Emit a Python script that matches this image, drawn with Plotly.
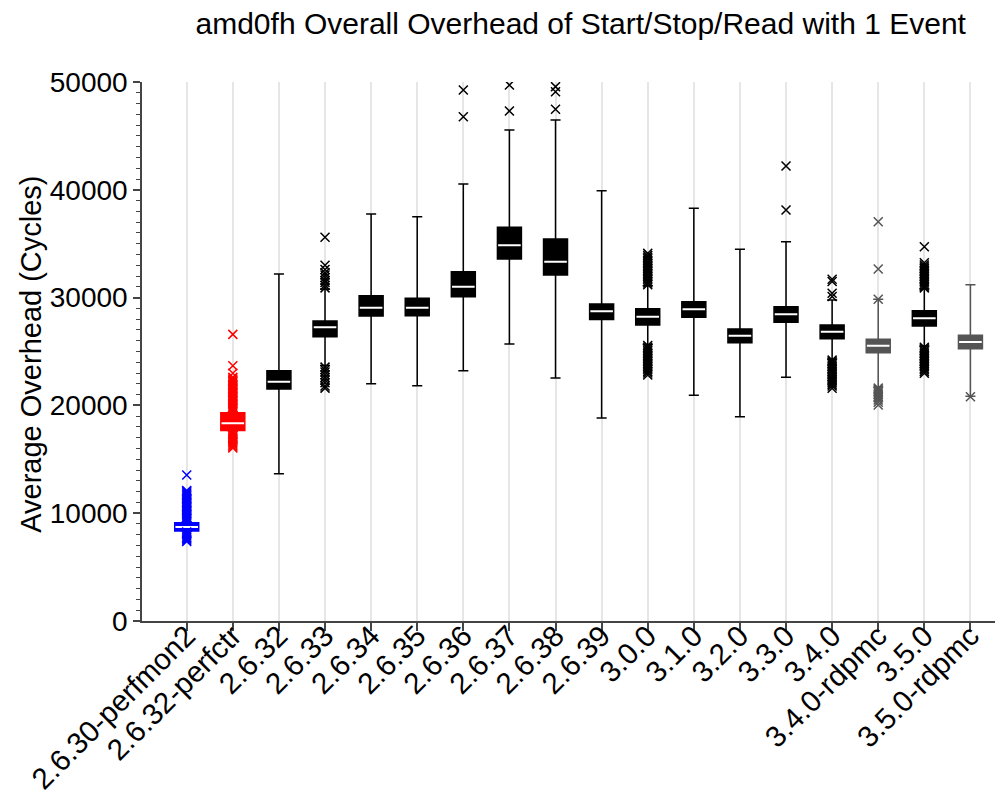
import plotly.graph_objects as go

categories = ["2.6.30-perfmon2", "2.6.32-perfctr", "2.6.32", "2.6.33", "2.6.34", "2.6.35",
              "2.6.36", "2.6.37", "2.6.38", "2.6.39", "3.0.0", "3.1.0", "3.2.0", "3.3.0",
              "3.4.0", "3.4.0-rdpmc", "3.5.0", "3.5.0-rdpmc"]

q1 = [8340, 17680, 21520, 26370, 28290, 28320, 30090, 33580, 32100, 27980,
      27460, 28170, 25820, 27710, 26190, 24890, 27370, 25260]
median = [8720, 18340, 22200, 27240, 29060, 29060, 31010, 34850, 33330, 28730,
          28230, 28910, 26470, 28450, 26840, 25540, 28080, 25880]
q3 = [9120, 19320, 23220, 27830, 30180, 29930, 32400, 36520, 35440, 29410,
      28970, 29620, 27090, 29160, 27460, 26130, 28790, 26500]
lower_fence = [8330, 17600, 13670, 23700, 22010, 21830, 23220, 25700, 22540, 18830,
               25650, 20940, 18950, 22610, 24300, 21700, 25500, 20850]
upper_fence = [9200, 19400, 32190, 30800, 37760, 37500, 40540, 45550, 46480, 39920,
               31100, 38280, 34480, 35190, 29780, 29840, 30800, 31200]

outliers = [
    [9250, 9380, 9500, 9620, 9750, 9880, 10000, 10130, 10250, 10380, 10500, 10620, 10750,
     10880, 11000, 11130, 11250, 11380, 11500, 11620, 11750, 11880, 12000, 12100, 13540,
     8250, 8130, 8000, 7880, 7750, 7620, 7500, 7380],
    [19450, 19580, 19700, 19830, 19950, 20080, 20200, 20330, 20450, 20580, 20700, 20830,
     20950, 21080, 21200, 21330, 21450, 21580, 21700, 21830, 21950, 22080, 22200, 22330,
     22450, 22600, 22980, 23680, 26590,
     17550, 17420, 17300, 17170, 17050, 16920, 16800, 16670, 16550, 16420, 16300, 16170, 16050],
    [],
    [30900, 31150, 31400, 31600, 31850, 32100, 32300, 32600, 33000, 35590,
     23550, 23300, 23100, 22850, 22600, 22350, 22100, 21800, 21600],
    [],
    [],
    [46780, 49260],
    [47310, 49720],
    [47470, 49100, 49570],
    [],
    [31200, 31350, 31500, 31650, 31800, 31950, 32100, 32250, 32400, 32550, 32700, 32850,
     33000, 33150, 33300, 33450, 33600, 33750, 33900, 34100,
     25550, 25400, 25250, 25100, 24950, 24800, 24650, 24500, 24350, 24200, 24050, 23900,
     23750, 23600, 23450, 23300, 23150, 23000, 22820],
    [],
    [],
    [38130, 42210],
    [30100, 30400, 31500, 31700,
     24200, 24050, 23900, 23750, 23600, 23450, 23300, 23150, 23000, 22850, 22700, 22550,
     22400, 22250, 22100, 21950, 21800, 21590],
    [29840, 32650, 37040,
     21600, 21450, 21300, 21150, 21000, 20850, 20700, 20500, 20300, 20040],
    [30900, 31050, 31200, 31350, 31500, 31650, 31800, 31950, 32100, 32250, 32400, 32550,
     32700, 32850, 33020, 33240, 34720,
     25400, 25250, 25100, 24950, 24800, 24650, 24500, 24350, 24200, 24050, 23900, 23750,
     23600, 23450, 23300, 23150, 22980],
    [20800],
]

# styling
colors = ["#0000ff", "#ff0000"] + ["#000000"] * 13 + ["#555555", "#000000", "#555555"]

FONT = "Liberation Sans, Arial, Helvetica, sans-serif"

fig = go.Figure()

for i, cat in enumerate(categories):
    c = colors[i]
    fig.add_trace(go.Box(
        x=[cat], q1=[q1[i]], median=[median[i]], q3=[q3[i]],
        lowerfence=[lower_fence[i]], upperfence=[upper_fence[i]],
        width=0.52, whiskerwidth=0.42, boxpoints=False,
        fillcolor=c, line=dict(color=c, width=1.5),
        showlegend=False, hoverinfo="skip",
    ))
    # white median line
    fig.add_trace(go.Box(
        x=[cat], q1=[median[i]], median=[median[i]], q3=[median[i]],
        lowerfence=[median[i]], upperfence=[median[i]],
        width=0.49, whiskerwidth=0, boxpoints=False,
        fillcolor="#ffffff", line=dict(color="#ffffff", width=2),
        showlegend=False, hoverinfo="skip",
    ))
    if outliers[i]:
        fig.add_trace(go.Scatter(
            x=[cat] * len(outliers[i]), y=outliers[i], mode="markers",
            marker=dict(symbol="x-thin-open", size=9, color=c,
                        line=dict(color=c, width=1.5)),
            showlegend=False, hoverinfo="skip",
        ))

fig.update_layout(
    width=1003, height=798,
    margin=dict(l=134, r=0, t=74, b=185, autoexpand=False),
    paper_bgcolor="#ffffff", plot_bgcolor="#ffffff",
    boxmode="overlay",
    font=dict(family=FONT, color="#000000"),
    title=dict(text="amd0fh Overall Overhead of Start/Stop/Read with 1 Event",
               x=0.571, xanchor="center", y=0.98, yanchor="middle",
               font=dict(size=30, family=FONT, color="#000000")),
    annotations=[dict(text="Average Overhead (Cycles)", xref="paper", yref="paper",
                      x=-0.1277, y=0.494, xanchor="center", yanchor="middle",
                      textangle=-90, showarrow=False,
                      font=dict(size=29, family=FONT, color="#000000"))],
)

fig.update_xaxes(
    type="category", categoryorder="array", categoryarray=categories,
    range=[-0.97, 17.88], automargin=False,
    showgrid=True, gridcolor="#e6e6e6", gridwidth=1.5,
    showline=True, linecolor="#444444", linewidth=1.5,
    ticks="outside", ticklen=8, tickwidth=1.5, tickcolor="#444444",
    tickangle=-45, tickfont=dict(size=29.5, family=FONT, color="#000000"),
    ticklabelstandoff=-24,
    zeroline=False,
)

fig.update_yaxes(
    range=[0, 50000], tickvals=[0, 10000, 20000, 30000, 40000, 50000],
    ticktext=["0", "10000", "20000", "30000", "40000", "50000"],
    automargin=False,
    showgrid=False, zeroline=False,
    showline=True, linecolor="#444444", linewidth=1.5,
    ticks="outside", ticklen=7, tickwidth=1.5, tickcolor="#444444",
    minor=dict(dtick=1000, ticks="outside", ticklen=4, tickwidth=1, tickcolor="#444444",
               showgrid=False),
    tickfont=dict(size=28, family=FONT, color="#000000"),
)

fig.write_html("out.html")
